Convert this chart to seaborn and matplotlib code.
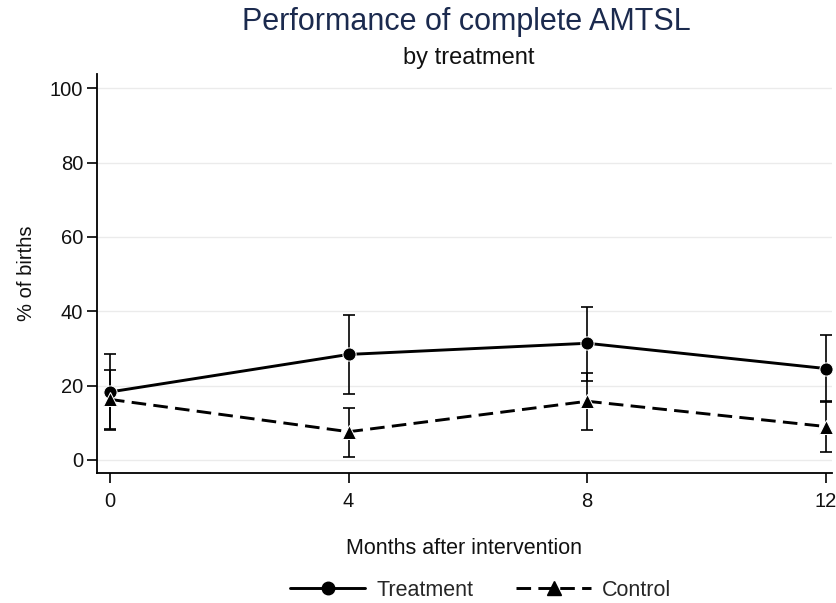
import matplotlib
matplotlib.use("Agg")
import matplotlib.pyplot as plt
import seaborn as sns
import pandas as pd
from matplotlib.lines import Line2D

months = [0, 4, 8, 12]
treat_mean = [18.3, 28.4, 31.4, 24.6]
treat_lo = [8.3, 17.7, 21.3, 15.7]
treat_hi = [28.4, 39.0, 41.2, 33.7]
ctrl_mean = [16.3, 7.6, 15.8, 9.0]
ctrl_lo = [8.1, 0.9, 8.1, 2.2]
ctrl_hi = [24.2, 14.1, 23.5, 15.8]
groups = ["Treatment", "Control"]
yticks = [0, 20, 40, 60, 80, 100]
xticks = [0, 4, 8, 12]

sns.set_theme(style="white")
plt.rcParams['font.family'] = ['Liberation Sans', 'DejaVu Sans']

df = pd.DataFrame({
    "month": months * 2,
    "pct": treat_mean + ctrl_mean,
    "group": [groups[0]] * 4 + [groups[1]] * 4,
})

fig = plt.figure(figsize=(8.36, 6.03), dpi=100)
ax = fig.add_axes([0.116, 0.2156, 0.879, 0.6614])

for y in yticks:
    ax.axhline(y, color="#ebebeb", lw=1, zorder=0)

sns.lineplot(data=df, x="month", y="pct", style="group", markers={"Treatment": "o", "Control": "^"},
             dashes={"Treatment": "", "Control": (5, 2.5)}, color="black", lw=2.1, markersize=9.5,
             ax=ax, legend=False, zorder=3)

for m, lo, hi in [(treat_mean, treat_lo, treat_hi), (ctrl_mean, ctrl_lo, ctrl_hi)]:
    yerr = [[a - b for a, b in zip(m, lo)], [b - a for a, b in zip(m, hi)]]
    ax.errorbar(months, m, yerr=yerr, fmt="none", ecolor="black", elinewidth=1.2,
                capsize=4, capthick=1.2, zorder=2)

ax.set_xlim(-0.218, 12.1)
ax.set_ylim(-3.5, 103.8)
ax.set_xticks(xticks)
ax.set_yticks(yticks)
ax.tick_params(axis="both", which="both", length=7, width=1.2, color="black", labelsize=14.5,
               bottom=True, left=True, labelcolor="#111111")
ax.tick_params(axis="x", pad=7)
ax.tick_params(axis="y", pad=3)
for s in ["top", "right"]:
    ax.spines[s].set_visible(False)
for s in ["left", "bottom"]:
    ax.spines[s].set_color("black")
    ax.spines[s].set_linewidth(1.3)

ax.set_xlabel("Months after intervention", fontsize=15.5, labelpad=19, color="#111111")
ax.set_ylabel("% of births", fontsize=14.5, labelpad=10, color="#111111")

fig.text(0.558, 0.963, "Performance of complete AMTSL", ha="center", va="center",
         fontsize=22, color="#1b2a4e")
fig.text(0.5605, 0.904, "by treatment", ha="center", va="center", fontsize=17, color="#111111")

handles = [
    Line2D([], [], color="black", lw=2.1, marker="o", markersize=9),
    Line2D([], [], color="black", lw=2.1, ls=(0, (5, 2.5)), marker="^", markersize=9.5),
]
fig.legend(handles, groups, loc="center", bbox_to_anchor=(0.575, 0.021), ncol=2, frameon=False,
           fontsize=15.5, handlelength=3.5, columnspacing=2.0, handletextpad=0.5)

fig.savefig("out.png", dpi=100)
